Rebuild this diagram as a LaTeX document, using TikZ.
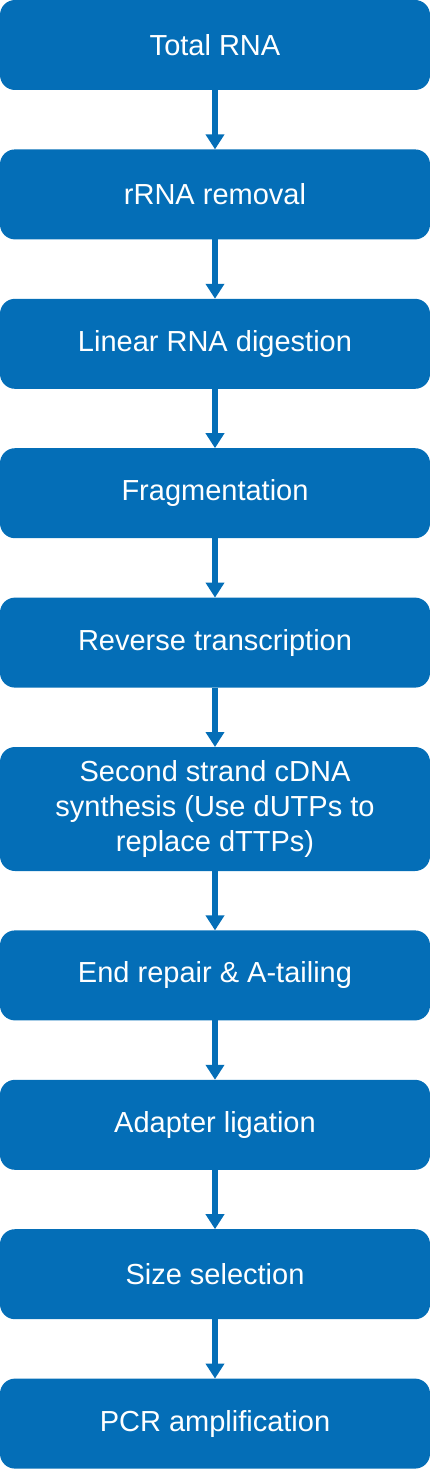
\documentclass[tikz,border=0pt]{standalone}
\usepackage{fontspec}
\setmainfont{Liberation Sans}
\usetikzlibrary{positioning,arrows.meta}
\definecolor{stepblue}{RGB}{4,110,183}

\begin{document}
\begin{tikzpicture}[
    node distance=59.4pt,
    stepbox/.style={fill=stepblue, rounded corners=15pt, minimum width=430pt,
      minimum height=90pt, inner sep=0pt, outer sep=0pt, text=white,
      align=center, font=\fontsize{29}{35}\selectfont},
    flow/.style={stepblue, line width=5.5pt, -{Triangle[width=18pt,length=15pt]}}
  ]
  \path[use as bounding box] (0,0) rectangle (430pt,-1469pt);
  \node[stepbox, anchor=north] (total) at (215pt,0) {Total RNA};
  \node[stepbox, below=of total] (rrna) {rRNA removal};
  \node[stepbox, below=of rrna] (linear) {Linear RNA digestion};
  \node[stepbox, below=of linear] (frag) {Fragmentation};
  \node[stepbox, below=of frag] (rt) {Reverse transcription};
  \node[stepbox, minimum height=124pt, below=of rt] (second) {Second strand cDNA\\synthesis (Use dUTPs to\\replace dTTPs)};
  \node[stepbox, below=of second] (endrep) {End repair \& A-tailing};
  \node[stepbox, below=of endrep] (adapter) {Adapter ligation};
  \node[stepbox, below=of adapter] (size) {Size selection};
  \node[stepbox, below=of size] (pcr) {PCR amplification};
  \foreach \a/\b in {total/rrna, rrna/linear, linear/frag, frag/rt, rt/second,
      second/endrep, endrep/adapter, adapter/size, size/pcr}{
      \draw[flow] (\a) -- (\b);
  }
\end{tikzpicture}
\end{document}
